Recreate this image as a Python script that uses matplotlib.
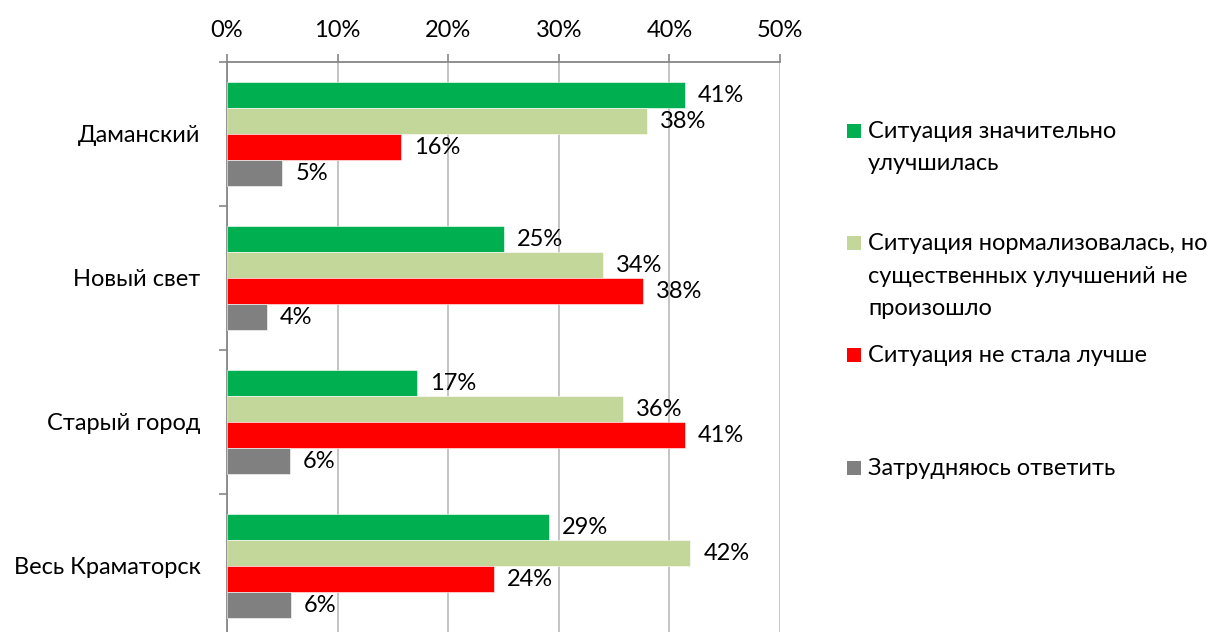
import numpy as np
import matplotlib.pyplot as plt
from matplotlib.patches import Rectangle

plt.rcParams['font.family'] = ['Lato', 'DejaVu Sans']

districts = ['Даманский', 'Новый свет', 'Старый город', 'Весь Краматорск']
series_names = ['Ситуация значительно\nулучшилась',
                'Ситуация нормализовалась, но\nсущественных улучшений не\nпроизошло',
                'Ситуация не стала лучше',
                'Затрудняюсь ответить']
improved = [41.4, 25.0, 17.2, 29.1]
normalized = [38.0, 34.0, 35.8, 41.9]
not_better = [15.7, 37.6, 41.4, 24.1]
no_answer = [5.0, 3.6, 5.7, 5.8]
colors = ['#00B050', '#C4D79B', '#FF0000', '#808080']

W, H = 1223, 632
FS = 17
fig = plt.figure(figsize=(W / 100, H / 100), dpi=100)
# axes box in pixels: x 227..780, y 62..638 (bottom runs a bit past the figure)
ax = fig.add_axes([227 / W, (H - 638) / H, 553 / W, 576 / H])

series = [improved, normalized, not_better, no_answer]
y = np.arange(len(districts))
h = 26 / 144
for k, vals in enumerate(series):
    pos = y + (k - 1.5) * h
    bars = ax.barh(pos, vals, height=h, color=colors[k], edgecolor='white', linewidth=0.4, zorder=3)
    for b, v in zip(bars, vals):
        ax.annotate('%d%%' % round(v), (b.get_width(), b.get_y() + h / 2),
                    xytext=(13, 0), textcoords='offset pixels',
                    ha='left', va='center', fontsize=FS, color='#000000')

ax.set_xlim(0, 50)
ax.set_ylim(3.5, -0.5)
ax.xaxis.tick_top()
ax.set_xticks(range(0, 51, 10))
ax.set_xticklabels(['%d%%' % t for t in range(0, 51, 10)], fontsize=FS)
ax.tick_params(axis='x', direction='out', length=6, width=1.2, color='#868686', pad=9)
ax.grid(axis='x', color='#BFBFBF', linewidth=1.3, zorder=0)

ax.set_yticks(y)
ax.set_yticklabels(districts, fontsize=FS)
ax.tick_params(axis='y', length=0, pad=19)
ax.set_yticks(np.arange(-0.5, 4.0, 1.0), minor=True)
ax.tick_params(axis='y', which='minor', direction='out', length=6, width=1.2, color='#868686')

for s in ['right', 'bottom']:
    ax.spines[s].set_visible(False)
for s in ['top', 'left']:
    ax.spines[s].set_color('#868686')
    ax.spines[s].set_linewidth(1.3)

# legend drawn by hand so the entries sit where Excel put them
first_baselines = [137.7, 250, 361.7, 475]
line_step = 32.5
for k, name in enumerate(series_names):
    yb = first_baselines[k]
    fig.add_artist(Rectangle((847 / W, 1 - 138 / H + (137.7 - yb) / H), 14 / W, 14 / H,
                             transform=fig.transFigure, color=colors[k], lw=0))
    for j, line in enumerate(name.split('\n')):
        fig.text(868 / W, 1 - (yb + j * line_step) / H, line, fontsize=FS,
                 ha='left', va='baseline')

fig.savefig('out.png', dpi=100)
